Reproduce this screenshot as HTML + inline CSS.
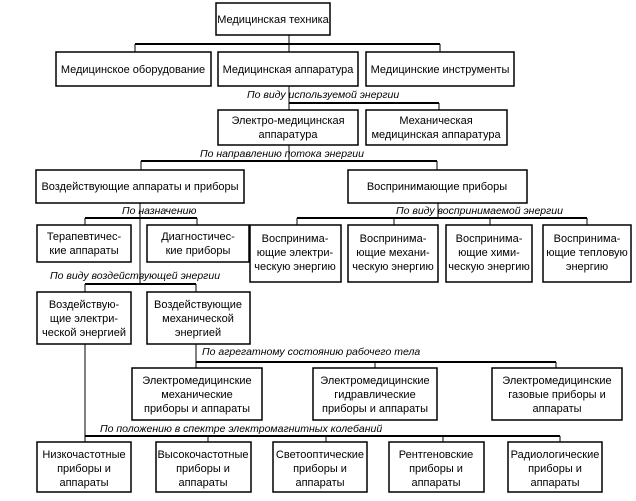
<!DOCTYPE html>
<html><head><meta charset="utf-8"><style>
body{margin:0;background:#fff}
svg text{font-family:"Liberation Sans",sans-serif;font-size:11px;fill:#000}
.i{font-style:italic;font-size:10.5px}
</style></head><body>
<svg width="636" height="496" viewBox="0 0 636 496" xmlns="http://www.w3.org/2000/svg">
<g stroke="#000" fill="none">
<!-- connectors -->
<path d="M289 35V52M135 44H440M135 44V52M440 44V52" stroke-width="1"/>
<path d="M135 44H440" stroke-width="2"/>
<path d="M289 86V110M439 103V110" stroke-width="1"/>
<path d="M289 103H439" stroke-width="2"/>
<path d="M289 145V161M141 161V170M437 161V170" stroke-width="1"/>
<path d="M141 161H437" stroke-width="2"/>
<path d="M140 203V284M85 218V225M197 218V225" stroke-width="1"/>
<path d="M85 218H197" stroke-width="2"/>
<path d="M438 203V218M297 218V225M394 218V225M490 218V225M587 218V225" stroke-width="1"/>
<path d="M297 218H587" stroke-width="2"/>
<path d="M85 284V292M196 284V292" stroke-width="1"/>
<path d="M85 284H196" stroke-width="2"/>
<path d="M196 344V368M375 362V368M556 362V368" stroke-width="1"/>
<path d="M196 362H556" stroke-width="2"/>
<path d="M85 344V442M208 436V442M326 436V442M443 436V442M560 436V442" stroke-width="1"/>
<path d="M85 436H560" stroke-width="2"/>
</g>
<g fill="#fff" stroke="#000" stroke-width="1.5">
<rect x="216" y="3" width="114" height="32"/>
<rect x="56" y="52" width="155" height="34"/>
<rect x="218" y="52" width="140" height="34"/>
<rect x="366" y="52" width="148" height="34"/>
<rect x="218" y="110" width="140" height="35"/>
<rect x="366" y="110" width="141" height="35"/>
<rect x="36" y="170" width="208" height="33"/>
<rect x="348" y="170" width="179" height="33"/>
<rect x="37" y="225" width="94" height="37"/>
<rect x="147" y="225" width="102" height="37"/>
<rect x="250" y="225" width="91" height="57"/>
<rect x="348" y="225" width="90" height="57"/>
<rect x="446" y="225" width="86" height="57"/>
<rect x="543" y="225" width="88" height="57"/>
<rect x="37" y="292" width="94" height="52"/>
<rect x="147" y="292" width="103" height="52"/>
<rect x="132" y="368" width="130" height="52"/>
<rect x="313" y="368" width="124" height="52"/>
<rect x="492" y="368" width="130" height="52"/>
<rect x="37" y="442" width="94" height="50"/>
<rect x="156" y="442" width="95" height="50"/>
<rect x="273" y="442" width="94" height="50"/>
<rect x="389" y="442" width="95" height="50"/>
<rect x="508" y="442" width="94" height="50"/>
</g>
<g text-anchor="middle">
<text x="273" y="23">Медицинская техника</text>
<text x="133" y="73">Медицинское оборудование</text>
<text x="288" y="73">Медицинская аппаратура</text>
<text x="440" y="73">Медицинские инструменты</text>
<text x="288" y="124">Электро-медицинская</text><text x="288" y="138">аппаратура</text>
<text x="436" y="124">Механическая</text><text x="436" y="138">медицинская аппаратура</text>
<text x="140" y="190">Воздействующие аппараты и приборы</text>
<text x="437" y="190">Воспринимающие приборы</text>
<text x="84" y="240">Терапевтичес-</text><text x="84" y="254">кие аппараты</text>
<text x="198" y="240">Диагностичес-</text><text x="198" y="254">кие приборы</text>
<text x="295" y="242">Воспринима-</text><text x="295" y="256">ющие электри-</text><text x="295" y="270">ческую энергию</text>
<text x="393" y="242">Воспринима-</text><text x="393" y="256">ющие механи-</text><text x="393" y="270">ческую энергию</text>
<text x="489" y="242">Воспринима-</text><text x="489" y="256">ющие хими-</text><text x="489" y="270">ческую энергию</text>
<text x="587" y="242">Воспринима-</text><text x="587" y="256">ющие тепловую</text><text x="587" y="270">энергию</text>
<text x="84" y="308">Воздействую-</text><text x="84" y="322">щие электри-</text><text x="84" y="336">ческой энергией</text>
<text x="198" y="308">Воздействующие</text><text x="198" y="322">механической</text><text x="198" y="336">энергией</text>
<text x="197" y="384">Электромедицинские</text><text x="197" y="398">механические</text><text x="197" y="412">приборы и аппараты</text>
<text x="375" y="384">Электромедицинские</text><text x="375" y="398">гидравлические</text><text x="375" y="412">приборы и аппараты</text>
<text x="557" y="384">Электромедицинские</text><text x="557" y="398">газовые приборы и</text><text x="557" y="412">аппараты</text>
<text x="84" y="458">Низкочастотные</text><text x="84" y="472">приборы и</text><text x="84" y="486">аппараты</text>
<text x="203" y="458">Высокочастотные</text><text x="203" y="472">приборы и</text><text x="203" y="486">аппараты</text>
<text x="320" y="458">Светооптические</text><text x="320" y="472">приборы и</text><text x="320" y="486">аппараты</text>
<text x="436" y="458">Рентгеновские</text><text x="436" y="472">приборы и</text><text x="436" y="486">аппараты</text>
<text x="555" y="458">Радиологические</text><text x="555" y="472">приборы и</text><text x="555" y="486">аппараты</text>
</g>
<g class="i">
<text class="i" x="247" y="98">По виду используемой энергии</text>
<text class="i" x="200" y="157">По направлению потока энергии</text>
<text class="i" x="122" y="214">По назначению</text>
<text class="i" x="396" y="214">По виду воспринимаемой энергии</text>
<text class="i" x="50" y="279">По виду воздействующей энергии</text>
<text class="i" x="202" y="355">По агрегатному состоянию рабочего тела</text>
<text class="i" x="100" y="432">По положению в спектре электромагнитных колебаний</text>
</g>
</svg>
</body></html>
